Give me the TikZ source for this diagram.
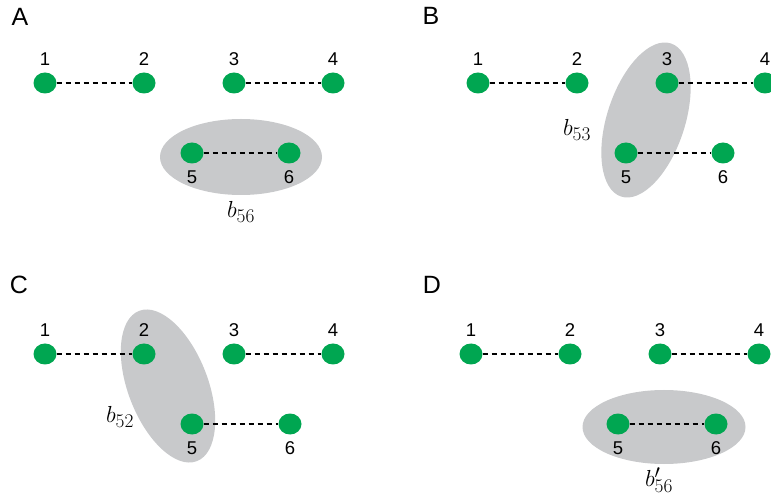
\documentclass[tikz,border=0pt]{standalone}
\usepackage{fontspec}
\setmainfont{Liberation Sans}
\usetikzlibrary{shapes.geometric}
\DeclareMathSizes{20.74}{20.74}{17.28}{12}

\definecolor{sitegreen}{RGB}{0,166,81}
\definecolor{blockgray}{RGB}{200,201,203}

\tikzset{
  site/.style={ellipse, fill=sitegreen, minimum width=23pt, minimum height=21pt, inner sep=0pt},
  bond/.style={line width=1.8pt, dash pattern=on 5pt off 4pt},
  block/.style={ellipse, fill=blockgray, inner sep=0pt},
  panel/.style={font=\fontsize{25}{25}\selectfont, inner sep=0pt},
  blabel/.style={font=\fontsize{20.74}{20.74}\selectfont, inner sep=0pt, scale=1.12, transform shape},
  every label/.style={font=\fontsize{18.5}{18.5}\selectfont, inner sep=0pt},
}

\begin{document}
\begin{tikzpicture}[x=1pt, y=-1pt, label distance=6.5pt]
\useasboundingbox (0,0) rectangle (771,502);

% Panel A
\node[block, minimum width=162pt, minimum height=76pt] (Ablk) at (241,157) {};
\path
(20,17) node[panel] (A) {A}
(45,83) node[site, label=above:1] (A1) {}
(144,83) node[site, label=above:2] (A2) {}
(234,83) node[site, label=above:3] (A3) {}
(333,83) node[site, label=above:4] (A4) {}
(192,153) node[site, label=below:5] (A5) {}
(289,153) node[site, label=below:6] (A6) {}
(241,212) node[blabel] (Ab) {$b_{56}$}
;
\draw[bond] (A1) -- (A2) (A3) -- (A4) (A5) -- (A6);

% Panel B
\node[block, minimum width=161pt, minimum height=78pt, rotate=72] (Bblk) at (646,120) {};
\path
(431,16) node[panel] (B) {B}
(478,83) node[site, label=above:1] (B1) {}
(577,83) node[site, label=above:2] (B2) {}
(667,83) node[site, label=above:3] (B3) {}
(765,83) node[site, label=above:4] (B4) {}
(626,153) node[site, label=below:5] (B5) {}
(723,153) node[site, label=below:6] (B6) {}
(577,130) node[blabel] (Bb) {$b_{53}$}
;
\draw[bond] (B1) -- (B2) (B3) -- (B4) (B5) -- (B6);

% Panel C
\node[block, minimum width=161pt, minimum height=80pt, rotate=-69] (Cblk) at (168,386) {};
\path
(19,285) node[panel] (C) {C}
(45,354) node[site, label=above:1] (C1) {}
(144,354) node[site, label=above:2] (C2) {}
(234,354) node[site, label=above:3] (C3) {}
(333,354) node[site, label=above:4] (C4) {}
(192,424) node[site, label=below:5] (C5) {}
(290,424) node[site, label=below:6] (C6) {}
(120,417) node[blabel] (Cb) {$b_{52}$}
;
\draw[bond] (C1) -- (C2) (C3) -- (C4) (C5) -- (C6);

% Panel D
\node[block, minimum width=163pt, minimum height=74pt] (Dblk) at (664,427) {};
\path
(432,285) node[panel] (D) {D}
(471,354) node[site, label=above:1] (D1) {}
(570,354) node[site, label=above:2] (D2) {}
(660,354) node[site, label=above:3] (D3) {}
(759,354) node[site, label=above:4] (D4) {}
(618,424) node[site, label=below:5] (D5) {}
(716,424) node[site, label=below:6] (D6) {}
(659,480) node[blabel] (Db) {$b'_{56}$}
;
\draw[bond] (D1) -- (D2) (D3) -- (D4) (D5) -- (D6);

\end{tikzpicture}
\end{document}
